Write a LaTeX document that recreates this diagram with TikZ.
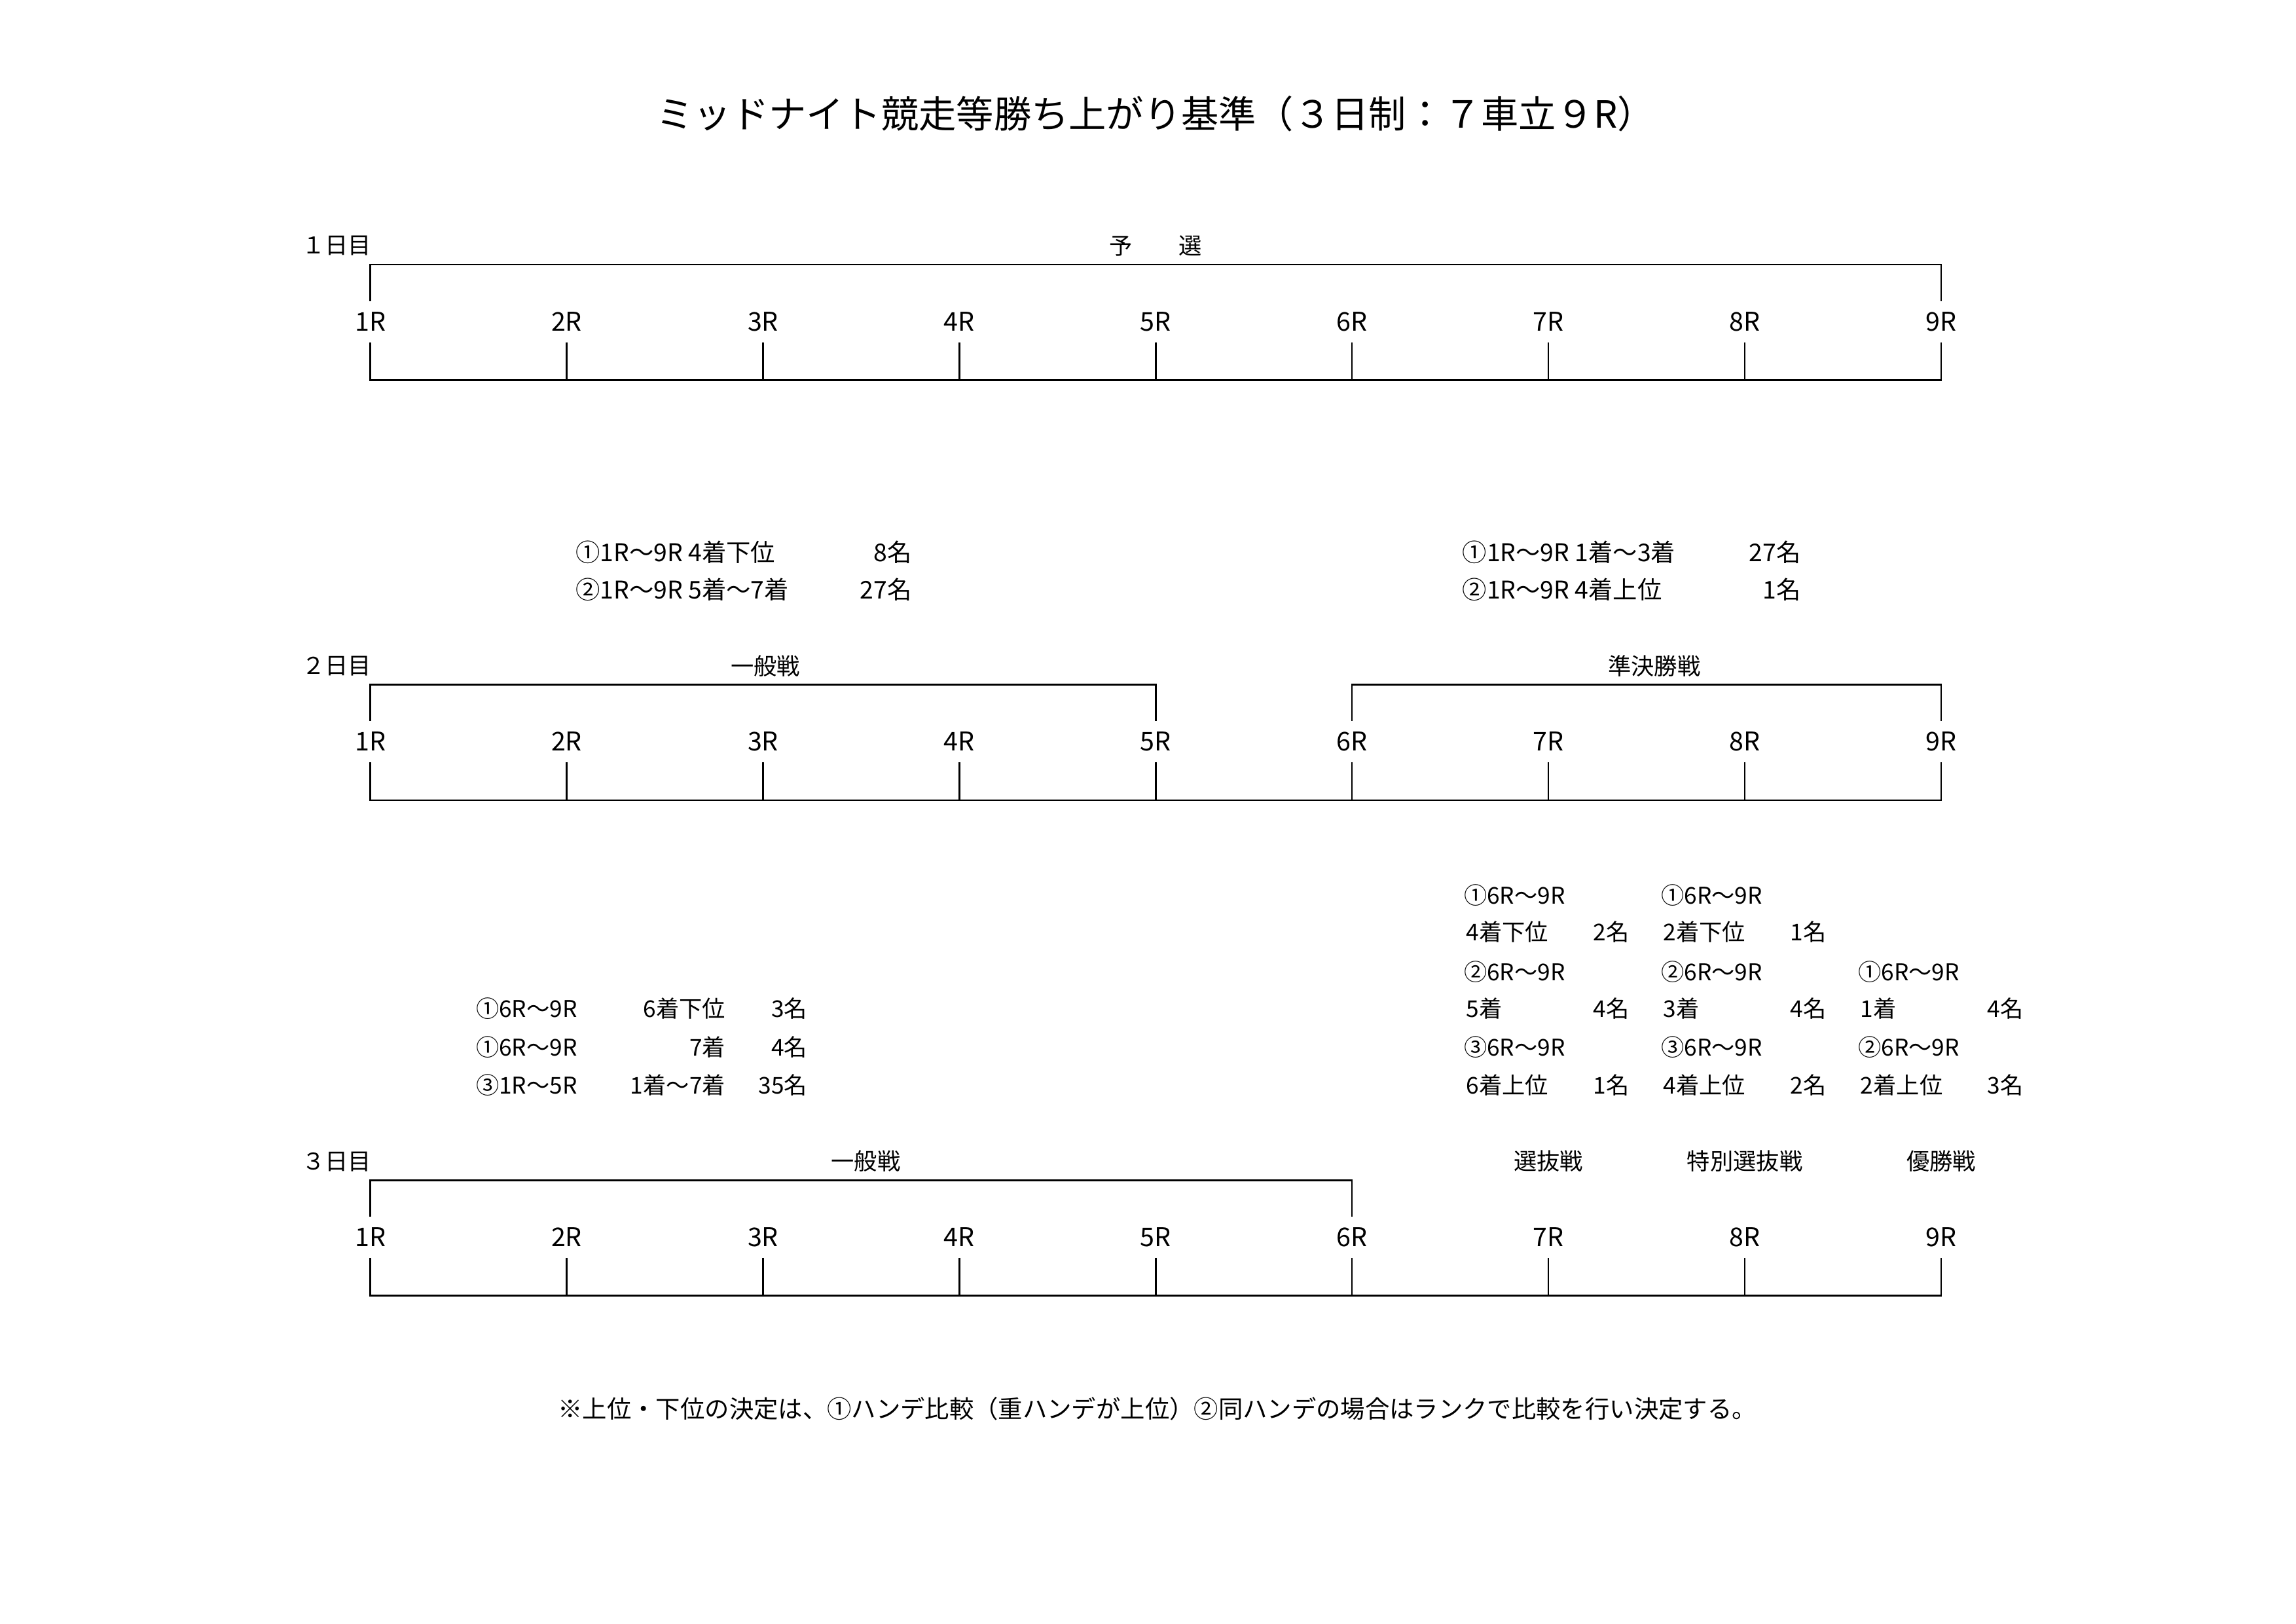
\documentclass[tikz,border=0pt]{standalone}
\usepackage{fontspec}
\setmainfont{Noto Sans CJK JP}
\usepackage{tikz}
\usetikzlibrary{positioning}
\tikzstyle{every node}=[inner sep=0pt,font=\fontsize{8.5}{10}\selectfont]
\tikzstyle{race}=[minimum height=0.52cm,font=\fontsize{9.5}{11}\selectfont]
\tikzstyle{heading}=[font=\fontsize{13.8}{16}\selectfont]
\tikzstyle{cond}=[font=\fontsize{9}{11}\selectfont]
\tikzstyle{rule}=[line width=0.6pt]

\begin{document}
\begin{tikzpicture}
\useasboundingbox (0,0) rectangle (29.7,-21);
\node[heading] (title) at (14.95,-1.47) {ミッドナイト競走等勝ち上がり基準（３日制：７車立９R）};

% 1日目
\node[anchor=west] (day1) at (3.90,-3.18) {１日目};
\node (yosen) at (14.95,-3.18) {予　　選};
\foreach \i in {1,...,9} \node[race] (a\i) at ({4.79+2.54*(\i-1)},-4.16) {\i R};
\draw[rule] (a1.north) -- ++(0,0.47) -| (a9.north);
\draw[rule] (a1.south) -- ++(0,-0.49) -| (a9.south);
\foreach \i in {2,...,8} \draw[rule] (a\i.south) -- ++(0,-0.49);

% 1日目 -> 2日目
\node[cond,anchor=west] (ippanA) at (7.44,-7.14) {①1R～9R 4着下位};
\node[cond,anchor=east] (ippanAn) at (11.80,-7.14) {8名};
\node[cond,anchor=west] (ippanB) at (7.44,-7.62) {②1R～9R 5着～7着};
\node[cond,anchor=east] (ippanBn) at (11.80,-7.62) {27名};
\node[cond,anchor=west] (junA) at (18.91,-7.14) {①1R～9R 1着～3着};
\node[cond,anchor=east] (junAn) at (23.30,-7.14) {27名};
\node[cond,anchor=west] (junB) at (18.91,-7.62) {②1R～9R 4着上位};
\node[cond,anchor=east] (junBn) at (23.30,-7.62) {1名};

% 2日目
\node[anchor=west] (day2) at (3.90,-8.61) {２日目};
\node (ippan2) at (9.90,-8.61) {一般戦};
\node (junkesshou) at (21.40,-8.61) {準決勝戦};
\foreach \i in {1,...,9} \node[race] (b\i) at ({4.79+2.54*(\i-1)},-9.59) {\i R};
\draw[rule] (b1.north) -- ++(0,0.47) -| (b5.north);
\draw[rule] (b6.north) -- ++(0,0.47) -| (b9.north);
\draw[rule] (b1.south) -- ++(0,-0.49) -| (b9.south);
\foreach \i in {2,...,8} \draw[rule] (b\i.south) -- ++(0,-0.49);

% 2日目 -> 3日目 (一般戦)
\node[anchor=west] (gA) at (6.15,-13.04) {①6R～9R};
\node[anchor=east] (gAc) at (9.39,-13.04) {6着下位};
\node[anchor=east] (gAn) at (10.45,-13.04) {3名};
\node[anchor=west] (gB) at (6.15,-13.54) {①6R～9R};
\node[anchor=east] (gBc) at (9.39,-13.54) {7着};
\node[anchor=east] (gBn) at (10.45,-13.54) {4名};
\node[anchor=west] (gC) at (6.15,-14.03) {③1R～5R};
\node[anchor=east] (gCc) at (9.39,-14.03) {1着～7着};
\node[anchor=east] (gCn) at (10.45,-14.03) {35名};

% 2日目 -> 3日目 (選抜戦)
\node[anchor=west] (sA1) at (18.93,-11.58) {①6R～9R};
\node[anchor=west] (sA1c) at (18.96,-12.05) {4着下位};
\node[anchor=east] (sA1n) at (21.08,-12.05) {2名};
\node[anchor=west] (sA2) at (18.93,-12.57) {②6R～9R};
\node[anchor=west] (sA2c) at (18.96,-13.04) {5着};
\node[anchor=east] (sA2n) at (21.08,-13.04) {4名};
\node[anchor=west] (sA3) at (18.93,-13.54) {③6R～9R};
\node[anchor=west] (sA3c) at (18.96,-14.03) {6着上位};
\node[anchor=east] (sA3n) at (21.08,-14.03) {1名};

% 2日目 -> 3日目 (特別選抜戦)
\node[anchor=west] (tB1) at (21.48,-11.58) {①6R～9R};
\node[anchor=west] (tB1c) at (21.51,-12.05) {2着下位};
\node[anchor=east] (tB1n) at (23.63,-12.05) {1名};
\node[anchor=west] (tB2) at (21.48,-12.57) {②6R～9R};
\node[anchor=west] (tB2c) at (21.51,-13.04) {3着};
\node[anchor=east] (tB2n) at (23.63,-13.04) {4名};
\node[anchor=west] (tB3) at (21.48,-13.54) {③6R～9R};
\node[anchor=west] (tB3c) at (21.51,-14.03) {4着上位};
\node[anchor=east] (tB3n) at (23.63,-14.03) {2名};

% 2日目 -> 3日目 (優勝戦)
\node[anchor=west] (yC1) at (24.03,-12.57) {①6R～9R};
\node[anchor=west] (yC1c) at (24.06,-13.04) {1着};
\node[anchor=east] (yC1n) at (26.18,-13.04) {4名};
\node[anchor=west] (yC2) at (24.03,-13.54) {②6R～9R};
\node[anchor=west] (yC2c) at (24.06,-14.03) {2着上位};
\node[anchor=east] (yC2n) at (26.18,-14.03) {3名};

% 3日目
\node[anchor=west] (day3) at (3.90,-15.02) {３日目};
\node (ippan3) at (11.20,-15.02) {一般戦};
\foreach \i in {1,...,9} \node[race] (c\i) at ({4.79+2.54*(\i-1)},-16.00) {\i R};
\node (senbatsu) at (c7 |- ippan3) {選抜戦};
\node (tokubetsu) at (c8 |- ippan3) {特別選抜戦};
\node (yuushou) at (c9 |- ippan3) {優勝戦};
\draw[rule] (c1.north) -- ++(0,0.47) -| (c6.north);
\draw[rule] (c1.south) -- ++(0,-0.49) -| (c9.south);
\foreach \i in {2,...,8} \draw[rule] (c\i.south) -- ++(0,-0.49);

\node[cond] (note) at (14.97,-18.22) {※上位・下位の決定は、①ハンデ比較（重ハンデが上位）②同ハンデの場合はランクで比較を行い決定する。};
\end{tikzpicture}
\end{document}
